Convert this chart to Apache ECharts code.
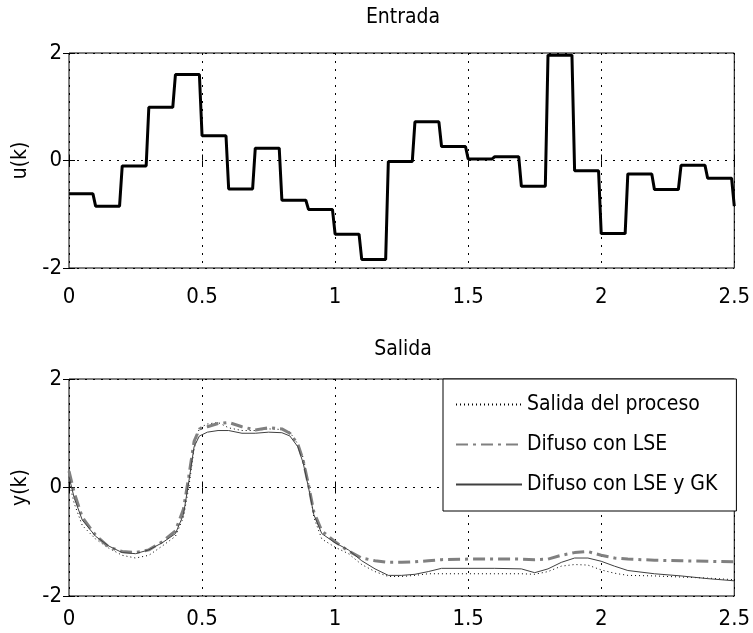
<!DOCTYPE html>
<html>
<head>
<meta charset="utf-8">
<script src="https://cdn.jsdelivr.net/npm/echarts@6/dist/echarts.min.js"></script>
<style>html,body{margin:0;padding:0;background:#fff}#c{width:753px;height:633px}</style>
</head>
<body>
<div id="c"></div>
<script>
// ---- Top plot: input u(k), piecewise constant levels ----
var uStarts = [0,0.1,0.2,0.3,0.4,0.5,0.6,0.7,0.8,0.9,1.0,1.1,1.2,1.3,1.4,1.5,1.6,1.7,1.8,1.9,2.0,2.1,2.2,2.3,2.4];
var uLevels = [-0.62,-0.85,-0.10,0.99,1.60,0.46,-0.53,0.23,-0.74,-0.91,-1.37,-1.84,-0.02,0.72,0.26,0.03,0.07,-0.48,1.96,-0.19,-1.36,-0.25,-0.54,-0.09,-0.33];
var uEnd = [2.5, -0.85];

// ---- Bottom plot: outputs ----
var tOut = [0,0.02,0.05,0.1,0.15,0.2,0.25,0.3,0.35,0.4,0.43,0.45,0.47,0.49,0.52,0.56,0.6,0.65,0.7,0.75,0.8,0.83,0.86,0.88,0.9,0.92,0.95,1.0,1.05,1.1,1.15,1.2,1.25,1.3,1.35,1.4,1.5,1.6,1.7,1.75,1.8,1.85,1.9,1.95,2.0,2.05,2.1,2.2,2.3,2.4,2.5];
var yProceso = [0.1,-0.3,-0.7,-0.95,-1.12,-1.25,-1.3,-1.25,-1.08,-0.9,-0.55,0.0,0.7,1.1,1.17,1.2,1.1,1.05,1.05,1.08,1.07,1.02,0.8,0.55,0.1,-0.55,-0.95,-1.1,-1.22,-1.42,-1.55,-1.64,-1.64,-1.62,-1.59,-1.59,-1.59,-1.59,-1.59,-1.6,-1.55,-1.45,-1.42,-1.43,-1.52,-1.58,-1.62,-1.63,-1.65,-1.67,-1.7];
var yLSE = [0.3,-0.1,-0.55,-0.88,-1.1,-1.18,-1.2,-1.15,-1.0,-0.8,-0.4,0.2,0.85,1.08,1.12,1.18,1.2,1.12,1.06,1.1,1.08,1.0,0.8,0.5,0.05,-0.45,-0.8,-1.0,-1.17,-1.3,-1.35,-1.38,-1.38,-1.37,-1.35,-1.33,-1.32,-1.32,-1.32,-1.33,-1.32,-1.25,-1.2,-1.18,-1.25,-1.3,-1.32,-1.34,-1.35,-1.36,-1.37];
var yGK = [0.2,-0.2,-0.6,-0.9,-1.08,-1.2,-1.22,-1.15,-1.02,-0.85,-0.5,0.1,0.75,0.95,1.02,1.05,1.05,1.0,1.0,1.02,1.01,0.95,0.75,0.45,0.0,-0.5,-0.85,-1.02,-1.15,-1.35,-1.5,-1.62,-1.62,-1.6,-1.55,-1.49,-1.49,-1.49,-1.5,-1.57,-1.5,-1.38,-1.3,-1.3,-1.36,-1.45,-1.53,-1.59,-1.63,-1.68,-1.72];

var names = ['Salida del proceso','Difuso con LSE','Difuso con LSE y GK'];

var FONT = "'DejaVu Sans Condensed','Liberation Sans',Arial,sans-serif";
var FS = 21;   // titles, names, legend
var FT = 22;   // tick labels

function pairs(xs, ys){ return xs.map(function(x,i){ return [x, ys[i]]; }); }
var uData = [];
for (var i=0;i<uStarts.length;i++){
  var next = (i+1<uStarts.length) ? uStarts[i+1] : uEnd[0];
  uData.push([uStarts[i], uLevels[i]]);
  uData.push([+(next-0.01).toFixed(3), uLevels[i]]);
}
uData.push(uEnd);

var chart = echarts.init(document.getElementById('c'), null, {renderer:'canvas'});
var grids = [
  {left:69, right:16, top:53, height:215, show:true, borderColor:'#000', borderWidth:1, backgroundColor:'#fff'},
  {left:69, right:16, top:379, height:217, show:true, borderColor:'#000', borderWidth:1, backgroundColor:'#fff'}
];
function xAx(g, pos, lab, margin){
  return {type:'value', gridIndex:g, position:pos, min:0, max:2.5, interval:0.5,
    axisLine:{show:false}, axisTick:{show:true, inside:true, length:6, lineStyle:{color:'#000'}},
    axisLabel:{show:lab, color:'#000', fontFamily:FONT, fontSize:FT, margin:margin||5},
    splitLine:{show:lab, lineStyle:{color:'#000', width:1, type:[2,6]}}};
}
function yAx(g, pos, lab, name){
  return {type:'value', gridIndex:g, position:pos, min:-2, max:2, interval:2,
    name: lab ? name : '', nameLocation:'middle', nameGap:36, nameRotate:90,
    nameTextStyle:{color:'#000', fontFamily:FONT, fontSize:FS},
    axisLine:{show:false}, axisTick:{show:true, inside:true, length:6, lineStyle:{color:'#000'}},
    axisLabel:{show:lab, color:'#000', fontFamily:FONT, fontSize:FT, margin:7},
    splitLine:{show:lab, lineStyle:{color:'#000', width:1, type:[2,6]}}};
}
var option = {
  animation:false,
  backgroundColor:'#fff',
  textStyle:{fontFamily:FONT},
  grid: grids,
  xAxis:[xAx(0,'bottom',true,18), xAx(0,'top',false), xAx(1,'bottom',true,12), xAx(1,'top',false)],
  yAxis:[yAx(0,'left',true,'u(k)'), yAx(0,'right',false,''), yAx(1,'left',true,'y(k)'), yAx(1,'right',false,'')],
  legend:{
    data:names, orient:'vertical', left:443, top:379,
    backgroundColor:'#fff', borderColor:'#000', borderWidth:1,
    padding:[15,19,16,12], itemWidth:66, itemHeight:20, itemGap:19,
    itemStyle:{opacity:0},
    textStyle:{color:'#000', fontFamily:FONT, fontSize:FS},
    selectedMode:false
  },
  graphic:[
    {type:'text', x:403, y:18, style:{text:'Entrada', fill:'#000', font:FS+'px '+FONT, align:'center', verticalAlign:'middle'}},
    {type:'text', x:403, y:350, style:{text:'Salida', fill:'#000', font:FS+'px '+FONT, align:'center', verticalAlign:'middle'}}
  ],
  series:[
    {type:'line', xAxisIndex:0, yAxisIndex:0, data:uData, showSymbol:false, symbol:'none',
      lineStyle:{color:'#000', width:3}, z:5},
    {name:names[0], type:'line', xAxisIndex:2, yAxisIndex:2, data:pairs(tOut,yProceso), symbol:'none',
      lineStyle:{color:'#000', width:1, type:[1,3]}, itemStyle:{color:'#000'}, z:3},
    {name:names[1], type:'line', xAxisIndex:2, yAxisIndex:2, data:pairs(tOut,yLSE), symbol:'none',
      lineStyle:{color:'#808080', width:3, type:[12,5,3,5]}, itemStyle:{color:'#808080'}, z:4},
    {name:names[2], type:'line', xAxisIndex:2, yAxisIndex:2, data:pairs(tOut,yGK), symbol:'none',
      lineStyle:{color:'#404040', width:1}, itemStyle:{color:'#404040'}, z:5}
  ]
};
chart.setOption(option);
</script>
</body>
</html>
